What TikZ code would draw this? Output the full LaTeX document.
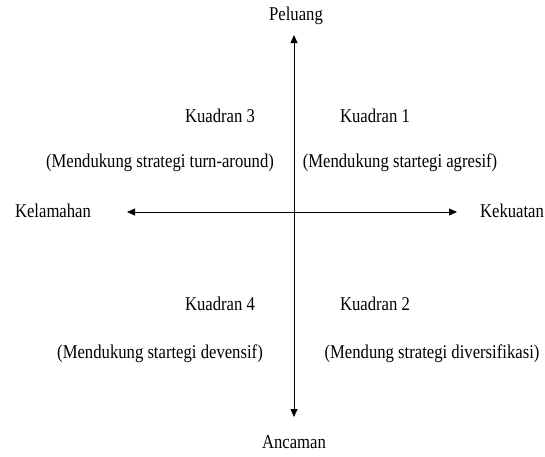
\documentclass[tikz,border=0pt]{standalone}
\usepackage{fontspec}
\usepackage{graphicx}
\setmainfont{Liberation Serif}
\usetikzlibrary{arrows.meta}
\newcommand{\cnd}[1]{\scalebox{0.855}[1]{#1}}
\begin{document}
\begin{tikzpicture}[x=1pt,y=-1pt,
  lbl/.style={inner sep=0pt,font=\fontsize{19.5}{22}\selectfont},
  axis/.style={line width=0.8pt,{Triangle[length=8pt,width=7pt]}-{Triangle[length=8pt,width=7pt]}}]
\useasboundingbox (0,0) rectangle (545,456);
\node[lbl] (pel) at (296,16) {\cnd{Peluang}};
\node[lbl] (anc) at (294,442) {\cnd{Ancaman}};
\node[lbl] (kel) at (53,211) {\cnd{Kelamahan}};
\node[lbl] (kek) at (512,211) {\cnd{Kekuatan}};
\coordinate (top) at (294,35);
\coordinate (bot) at (294,417);
\coordinate (lft) at (127,212);
\coordinate (rgt) at (457,212);
\draw[axis] (lft) -- (rgt);
\draw[axis] (top) -- (bot);
\node[lbl] (k3) at (220,116) {\cnd{Kuadran 3}};
\node[lbl] (k1) at (375,116) {\cnd{Kuadran 1}};
\node[lbl] (s3) at (160,163) {\cnd{(Mendukung strategi turn-around)}};
\node[lbl] (s1) at (400,163) {\cnd{(Mendukung startegi agresif)}};
\node[lbl] (k4) at (220,304) {\cnd{Kuadran 4}};
\node[lbl] (k2) at (375,304) {\cnd{Kuadran 2}};
\node[lbl] (s4) at (160,354) {\cnd{(Mendukung startegi devensif)}};
\node[lbl] (s2) at (432,354) {\cnd{(Mendung strategi diversifikasi)}};
\end{tikzpicture}
\end{document}
